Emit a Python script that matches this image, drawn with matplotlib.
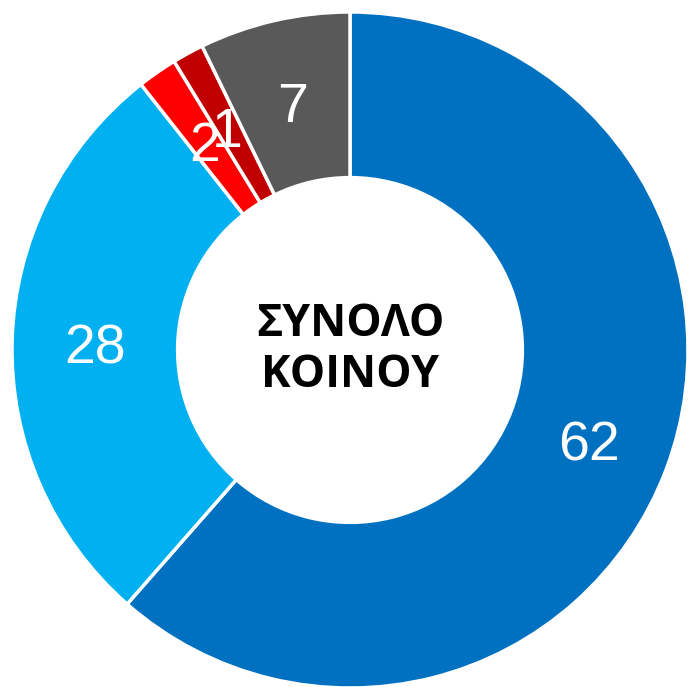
import matplotlib
matplotlib.use("Agg")
import matplotlib.pyplot as plt
import numpy as np

categories = ["A", "B", "C", "D", "E"]
values = [61.4, 27.9, 1.9, 1.5, 7.2]
labels = ["62", "28", "2", "1", "7"]
colors = ["#0070C0", "#00B0F0", "#FF0000", "#C00000", "#595959"]
center_text = "ΣΥΝΟΛΟ\nΚΟΙΝΟΥ"

W, H = 689, 687
fig = plt.figure(figsize=(W / 100, H / 100), dpi=100)
ax = fig.add_axes([0, 0, 1, 1])
cx, cy, R = 350, 350, 338

width = 0.49
wedges, _ = ax.pie(values, colors=colors, startangle=90, counterclock=False,
                   radius=1.0, frame=True,
                   wedgeprops=dict(width=width, edgecolor="white", linewidth=2.5))
ax.set_xlim(-cx / R, (W - cx) / R)
ax.set_ylim(-(H - cy) / R, cy / R)
ax.axis("off")

total = sum(values)
cum = 0
rlab = 1 - width / 2
for v, lab in zip(values, labels):
    mid = cum + v / 2
    ang = np.deg2rad(90 - 360 * mid / total)
    x, y = rlab * np.cos(ang), rlab * np.sin(ang)
    ax.text(x, y - 0.02, lab, ha="center", va="center", color="white",
            fontsize=40, family=["Liberation Sans", "DejaVu Sans"])
    cum += v

ax.text(0, 0, center_text, ha="center", va="center", color="black",
        fontsize=32, fontweight="bold", family=["Open Sans", "DejaVu Sans"],
        linespacing=1.2)

fig.savefig("out.png", dpi=100)
